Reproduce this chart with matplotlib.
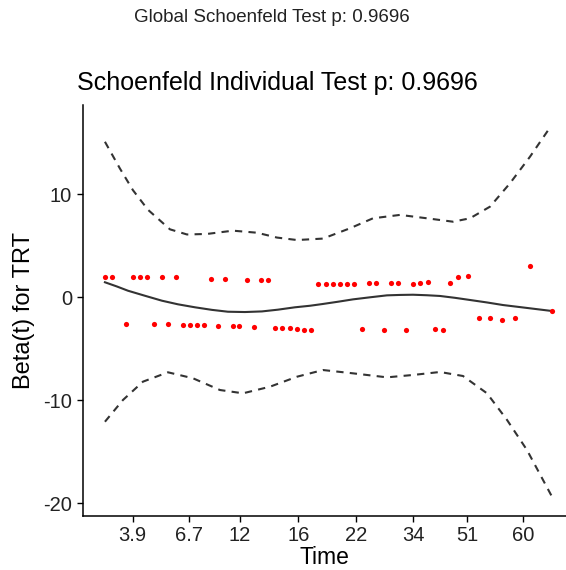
"""Schoenfeld residual plot (ggcoxzph style) for TRT."""

import numpy as np
import matplotlib
matplotlib.use("Agg")
import matplotlib.pyplot as plt

plt.rcParams['font.family'] = ['Liberation Sans', 'DejaVu Sans']

# transformed time scale (KM transform), ticks labelled with real times
tick_pos = [132.7, 189.3, 240, 298.3, 355.7, 413.3, 467.3, 522.7]
tick_lab = ["3.9", "6.7", "12", "16", "22", "34", "51", "60"]

# scaled Schoenfeld residuals
res_x = [105, 112, 133, 140, 147, 162, 176, 211, 225, 247, 261, 268,
         318, 326, 333, 340, 347, 354, 369, 376, 391, 398, 413, 420,
         428, 450, 458, 468, 530,
         126, 154, 168, 183, 190, 197, 204, 218, 233, 239, 254, 275,
         282, 290, 297, 304, 311, 362, 384, 406, 435, 443, 479, 490,
         502, 515, 552]
res_y = [2.0, 2.0, 2.0, 2.0, 2.0, 2.0, 2.0, 1.8, 1.8, 1.7, 1.65, 1.65,
         1.26, 1.26, 1.26, 1.26, 1.26, 1.26, 1.36, 1.36, 1.36, 1.36, 1.3, 1.4,
         1.5, 1.36, 1.97, 2.1, 3.04,
         -2.56, -2.6, -2.6, -2.65, -2.65, -2.65, -2.65, -2.8, -2.8, -2.8, -2.85, -2.95,
         -3.0, -3.0, -3.1, -3.15, -3.2, -3.1, -3.17, -3.17, -3.05, -3.17, -2.04, -2.04,
         -2.17, -2.04, -1.33]

# smoothed beta(t)
fit_x = [105, 117, 128, 145, 162, 178, 195, 212, 228, 245, 262, 278, 295, 310,
         322, 338, 353, 370, 387, 400, 413, 427, 440, 455, 470, 487, 503, 520,
         536, 552]
fit_y = [1.46, 1.05, 0.64, 0.15, -0.33, -0.68, -0.97, -1.22, -1.4, -1.43, -1.37,
         -1.2, -0.97, -0.82, -0.66, -0.43, -0.2, 0.0, 0.19, 0.23, 0.25, 0.2, 0.13,
         -0.05, -0.26, -0.5, -0.75, -0.95, -1.14, -1.33]

# confidence band
up_x = [105, 120, 133, 148, 170, 187, 207, 233, 257, 277, 297, 323, 350, 373,
        400, 427, 453, 470, 490, 510, 530, 548]
up_y = [15.1, 12.5, 10.4, 8.5, 6.6, 6.1, 6.15, 6.47, 6.27, 5.8, 5.56, 5.7, 6.7, 7.67,
        8.0, 7.67, 7.34, 7.67, 8.8, 11.07, 13.65, 16.2]
lo_x = [105, 123, 143, 168, 193, 220, 243, 270, 297, 323, 353, 387, 413, 440,
        463, 487, 507, 527, 552]
lo_y = [-12.08, -9.97, -8.19, -7.28, -7.86, -9.0, -9.32, -8.68, -7.71, -7.06, -7.38,
        -7.77, -7.54, -7.25, -7.64, -9.32, -11.9, -14.83, -19.36]

fig = plt.figure(figsize=(5.66, 5.70), dpi=100)
ax = fig.add_axes([0.146, 0.0953, 0.854, 0.7205])

ax.plot(fit_x, fit_y, color="#333333", lw=1.5)
ax.plot(up_x, up_y, color="#333333", lw=1.5, ls=(0, (3.5, 3)))
ax.plot(lo_x, lo_y, color="#333333", lw=1.5, ls=(0, (3.5, 3)))
ax.scatter(res_x, res_y, color="red", s=14, zorder=3, linewidths=0)

ax.set_xlim(82.7, 566)
ax.set_ylim(-21.2, 18.67)
ax.set_xticks(tick_pos)
ax.set_xticklabels(tick_lab)
ax.set_yticks([-20, -10, 0, 10])
ax.set_yticklabels(["-20", "-10", "0", "10"])
ax.tick_params(labelsize=14.5, length=4, width=1, colors="black", labelcolor="#222222")

for s in ["top", "right"]:
    ax.spines[s].set_visible(False)
for s in ["left", "bottom"]:
    ax.spines[s].set_linewidth(1.1)

ax.set_xlabel("Time", fontsize=16.5, labelpad=1)
ax.set_ylabel("Beta(t) for TRT", fontsize=17, labelpad=6)

fig.text(0.49, 0.855, "Schoenfeld Individual Test p: 0.9696", fontsize=18,
         ha="center", va="center")
fig.text(0.48, 0.97, "Global Schoenfeld Test p: 0.9696", fontsize=13.5,
         ha="center", va="center", color="#222222")

fig.savefig("out.png", dpi=100)
